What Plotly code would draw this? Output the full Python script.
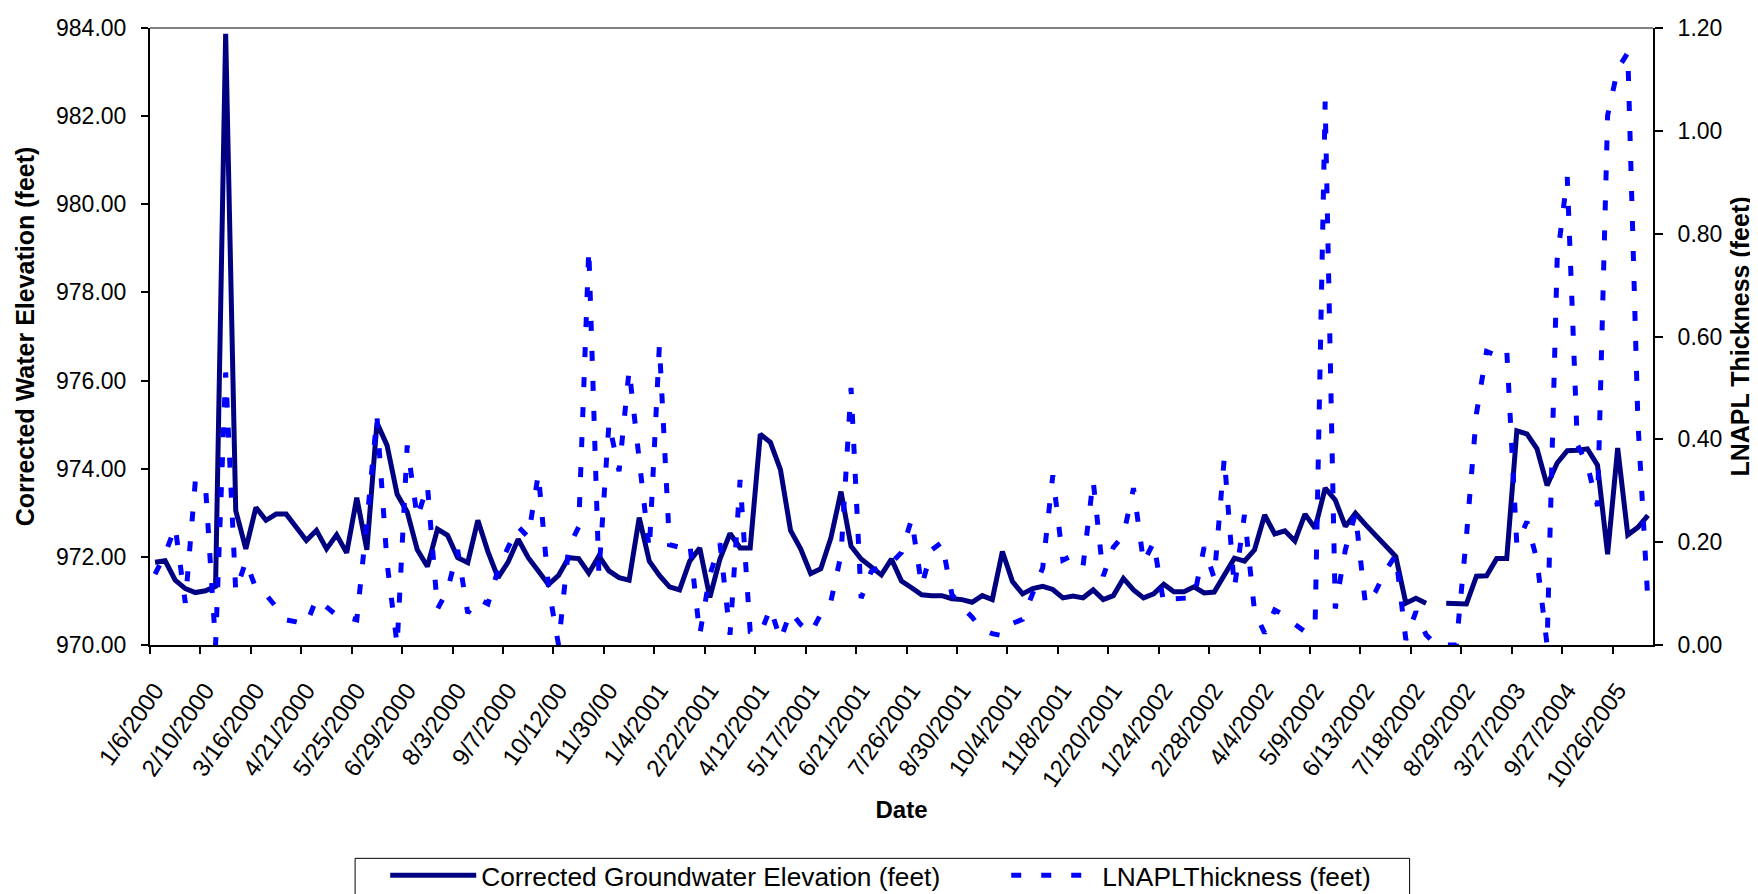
import plotly.graph_objects as go

# ---------------- data ----------------
tick_labels = ["1/6/2000", "2/10/2000", "3/16/2000", "4/21/2000", "5/25/2000",
               "6/29/2000", "8/3/2000", "9/7/2000", "10/12/00", "11/30/00",
               "1/4/2001", "2/22/2001", "4/12/2001", "5/17/2001", "6/21/2001",
               "7/26/2001", "8/30/2001", "10/4/2001", "11/8/2001", "12/20/2001",
               "1/24/2002", "2/28/2002", "4/4/2002", "5/9/2002", "6/13/2002",
               "7/18/2002", "8/29/2002", "3/27/2003", "9/27/2004", "10/26/2005"]
label_step = 5  # one date label every 5 sampling events

groundwater_ft = [
    971.88, 971.91, 971.47, 971.28, 971.19, 971.23, 971.33, 983.87, 973.05, 972.18,
    973.12, 972.83, 972.97, 972.97, 972.67, 972.37, 972.60, 972.18, 972.50, 972.09,
    973.34, 972.16, 975.04, 974.53, 973.42, 973.02, 972.16, 971.78, 972.63, 972.49,
    971.98, 971.87, 972.83, 972.12, 971.53, 971.88, 972.40, 971.98, 971.68, 971.37,
    971.58, 971.98, 971.96, 971.63, 972.02, 971.68, 971.53, 971.47, 972.89, 971.90,
    971.58, 971.32, 971.25, 971.90, 972.20, 971.08, 971.95, 972.53, 972.20, 972.20,
    974.78, 974.60, 973.98, 972.60, 972.18, 971.62, 971.73, 972.43, 973.48, 972.24,
    971.95, 971.77, 971.59, 971.95, 971.45, 971.30, 971.14, 971.12, 971.12, 971.05,
    971.03, 970.97, 971.12, 971.03, 972.12, 971.44, 971.16, 971.28, 971.33, 971.26,
    971.07, 971.11, 971.07, 971.25, 971.03, 971.12, 971.51, 971.25, 971.07, 971.16,
    971.38, 971.21, 971.21, 971.32, 971.18, 971.20, 971.59, 971.97, 971.90, 972.16,
    972.95, 972.52, 972.59, 972.36, 972.97, 972.65, 973.56, 973.29, 972.69, 972.99,
    972.73, 972.50, 972.27, 972.01, 970.95, 971.06, 970.95, None, 970.95, 970.95,
    970.93, 971.56, 971.57, 971.96, 971.96, 974.86, 974.79, 974.45, 973.62, 974.13,
    974.41, 974.42, 974.45, 974.08, 972.06, 974.47, 972.50, 972.67, 972.94,
]

lnapl_ft = [
    0.138, 0.177, 0.23, 0.082, 0.32, 0.31, 0.0, 0.53, 0.104, 0.163,
    0.11, 0.098, 0.074, 0.049, 0.045, 0.04, 0.09, 0.074, 0.058, 0.054,
    0.049, 0.24, 0.444, 0.16, 0.0, 0.388, 0.247, 0.311, 0.07, 0.107,
    0.185, 0.062, 0.09, 0.08, 0.146, 0.19, 0.23, 0.21, 0.333, 0.114,
    0.0, 0.19, 0.23, 0.77, 0.138, 0.432, 0.338, 0.535, 0.37, 0.185,
    0.583, 0.195, 0.19, 0.2, 0.02, 0.136, 0.198, 0.02, 0.321, 0.026,
    0.021, 0.072, 0.01, 0.065, 0.04, 0.023, 0.06, 0.085, 0.175, 0.5,
    0.091, 0.143, 0.153, 0.16, 0.18, 0.245, 0.115, 0.185, 0.2, 0.098,
    0.074, 0.054, 0.03, 0.022, 0.018, 0.042, 0.05, 0.098, 0.15, 0.33,
    0.165, 0.175, 0.154, 0.32, 0.134, 0.19, 0.213, 0.305, 0.16, 0.2,
    0.08, 0.09, 0.092, 0.092, 0.19, 0.13, 0.364, 0.11, 0.253, 0.065,
    0.023, 0.068, 0.058, 0.04, 0.026, 0.036, 1.057, 0.071, 0.185, 0.256,
    0.078, 0.104, 0.145, 0.175, 0.01, 0.065, 0.02, 0.0, 0.0, 0.0,
    0.21, 0.45, 0.571, 0.563, 0.575, 0.195, 0.24, 0.165, 0.0, 0.75,
    0.91, 0.39, 0.35, 0.27, 1.03, 1.12, 1.152, 0.436, 0.082,
]

# ---------------- figure ----------------
n = len(groundwater_ft)
x_idx = list(range(n))
label_pos = [i * label_step for i in range(len(tick_labels))]
tick_marks = [p - 0.5 for p in label_pos]

FONT = "Liberation Sans, Arial, sans-serif"

fig = go.Figure()
fig.add_trace(go.Scatter(
    x=x_idx, y=groundwater_ft, mode="lines", connectgaps=False,
    name="Corrected Groundwater Elevation (feet)",
    line=dict(color="#000080", width=5), yaxis="y"))
fig.add_trace(go.Scatter(
    x=x_idx, y=lnapl_ft, mode="lines",
    name="LNAPLThickness (feet)",
    line=dict(color="#0000FF", width=5, dash="10px,20px"), yaxis="y2"))

fig.update_layout(
    width=1758, height=894,
    margin=dict(l=142, r=113, t=20, b=257, autoexpand=False),
    paper_bgcolor="white", plot_bgcolor="white",
    font=dict(family=FONT, color="black", size=22),
    showlegend=True,
    legend=dict(orientation="h", x=0.1565, xanchor="left", y=-0.335, yanchor="top",
                borderwidth=0, bgcolor="rgba(0,0,0,0)",
                font=dict(family=FONT, size=26.3, color="black"),
                itemwidth=86, entrywidth=520, traceorder="normal"),
    xaxis=dict(
        range=[-0.5, n - 0.5], tickmode="array", tickvals=label_pos, ticktext=tick_labels,
        tickangle=-55, ticks="", showgrid=False, zeroline=False,
        showline=True, linecolor="black", linewidth=2,
        tickfont=dict(family=FONT, size=24), ticklabelstandoff=20,
        minor=dict(tickmode="array", tickvals=tick_marks, ticks="outside",
                   ticklen=7, tickwidth=1.5, tickcolor="black", showgrid=False),
        title=dict(text="<b>Date</b>", font=dict(family=FONT, size=24), standoff=10),
    ),
    yaxis=dict(
        range=[970, 984], dtick=2, tickformat=".2f", ticks="outside", ticklen=7,
        tickwidth=1.5, tickcolor="black", showgrid=False, zeroline=False,
        showline=True, linecolor="black", linewidth=2,
        tickfont=dict(family=FONT, size=23), ticklabelstandoff=10,
        title=dict(text="<b>Corrected Water Elevation (feet)</b>",
                   font=dict(family=FONT, size=25), standoff=14),
    ),
    yaxis2=dict(
        range=[0, 1.2], dtick=0.2, tickformat=".2f", overlaying="y", side="right",
        anchor="x", ticks="outside", ticklen=8, tickwidth=1.5, tickcolor="black",
        showgrid=False, zeroline=False, showline=True, linecolor="black", linewidth=2,
        tickfont=dict(family=FONT, size=23), ticklabelstandoff=10,
        title=dict(text="<b>LNAPL Thickness (feet)</b>",
                   font=dict(family=FONT, size=25), standoff=10),
    ),
    shapes=[
        # grey top edge of the plot area
        dict(type="line", xref="paper", yref="paper", x0=0, x1=1, y0=1, y1=1,
             line=dict(color="#808080", width=2)),
        # legend frame (runs past the bottom edge of the page, as in the original)
        dict(type="rect", xref="paper", yref="paper", x0=0.13646, x1=0.83806,
             y0=-0.34577, y1=-0.45, line=dict(color="black", width=1),
             fillcolor="rgba(0,0,0,0)", layer="below"),
    ],
)

fig.write_html("out.html")
